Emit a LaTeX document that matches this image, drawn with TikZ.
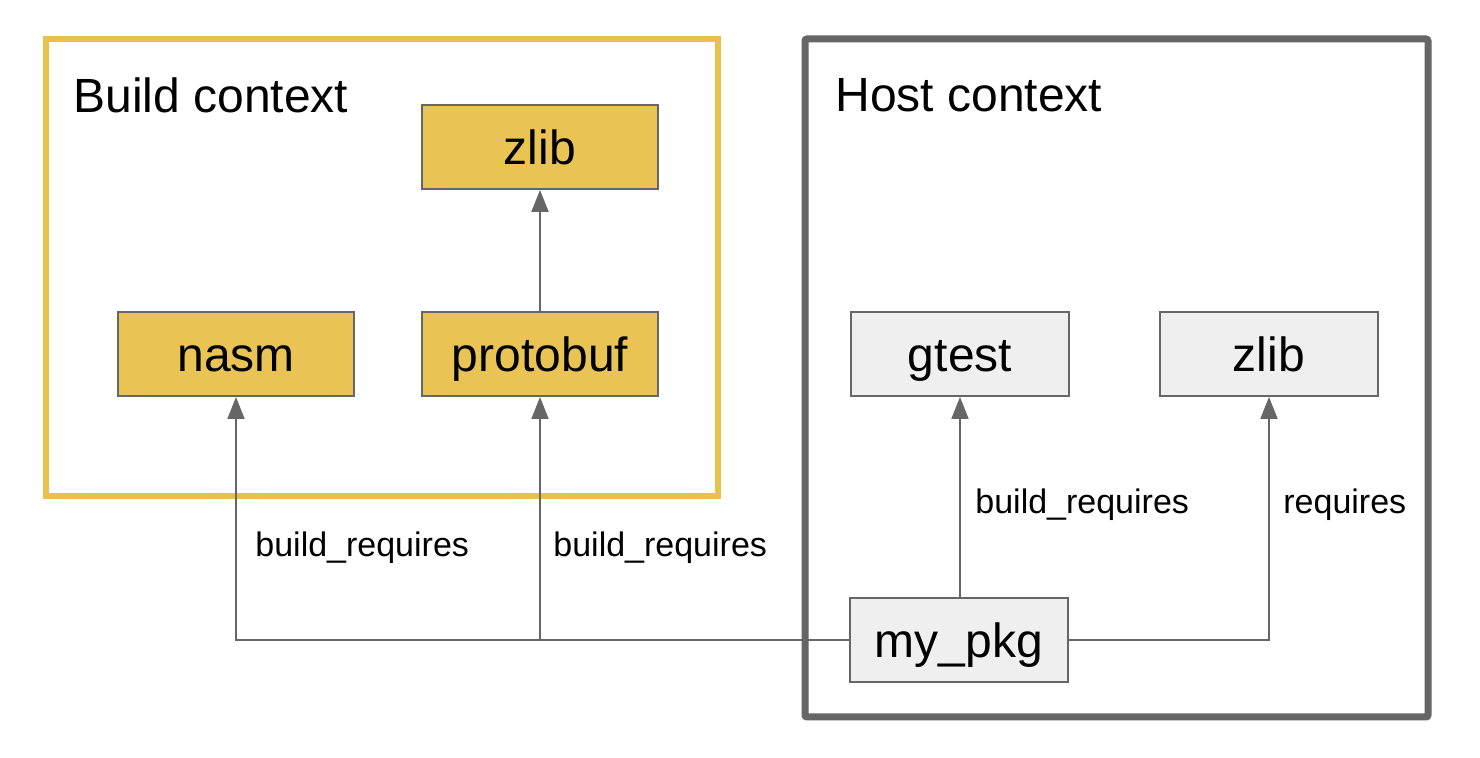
\documentclass[tikz,border=0pt]{standalone}
\usepackage{fontspec}
\setmainfont{Liberation Sans}
\usetikzlibrary{arrows.meta}
\definecolor{ylw}{HTML}{E9C353}
\definecolor{ylwframe}{HTML}{E9C04A}
\definecolor{gry}{HTML}{666666}
\definecolor{lgry}{HTML}{EFEFEF}
\tikzset{
  pkgbox/.style={draw=gry, line width=1pt, minimum width=#1, minimum height=42pt, inner sep=0pt, text height=17.6pt, text depth=0pt, font=\fontsize{24}{28}\selectfont},
  ybox/.style={pkgbox=118pt, fill=ylw},
  gbox/.style={pkgbox=109pt, fill=lgry},
  conn/.style={draw=gry, line width=1pt, -{Triangle[width=8.5pt,length=11pt]}},
  lbl/.style={font=\fontsize{17}{20}\selectfont, anchor=west, inner sep=0pt},
  ctx/.style={font=\fontsize{24}{28}\selectfont, anchor=west, inner sep=0pt}
}
\begin{document}
\begin{tikzpicture}[x=0.5pt,y=-0.5pt]
\useasboundingbox (0,0) rectangle (1480,758);
% context frames
\draw[ylwframe, line width=3pt] (46,39) rectangle (718,496);
\draw[gry, line width=3.5pt, rounded corners=1pt] (805,39) rectangle (1428,717);
\node[ctx] (bctx) at (73,95) {Build context};
\node[ctx] (hctx) at (835,95) {Host context};
% nodes
\node[ybox] (bzlib) at (540,147) {zlib};
\node[ybox] (nasm) at (236,354) {nasm};
\node[ybox] (proto) at (540,354) {protobuf};
\node[gbox] (gtest) at (960,354) {gtest};
\node[gbox] (hzlib) at (1269,354) {zlib};
\node[gbox] (pkg) at (959,640) {my\_pkg};
% connectors
\draw[conn] (proto.north) -- (bzlib.south);
\draw[conn] (pkg.west) -| (nasm.south);
\coordinate (branch) at (proto.south |- pkg.west);
\draw[conn] (branch) -- (proto.south);
\draw[conn] (pkg.north -| gtest.south) -- (gtest.south);
\draw[conn] (pkg.east) -| (hzlib.south);
% labels
\node[lbl] (l1) at (255,548) {build\_requires};
\node[lbl] (l2) at (553,548) {build\_requires};
\node[lbl] (l3) at (975,505) {build\_requires};
\node[lbl] (l4) at (1283,505) {requires};
\end{tikzpicture}
\end{document}
